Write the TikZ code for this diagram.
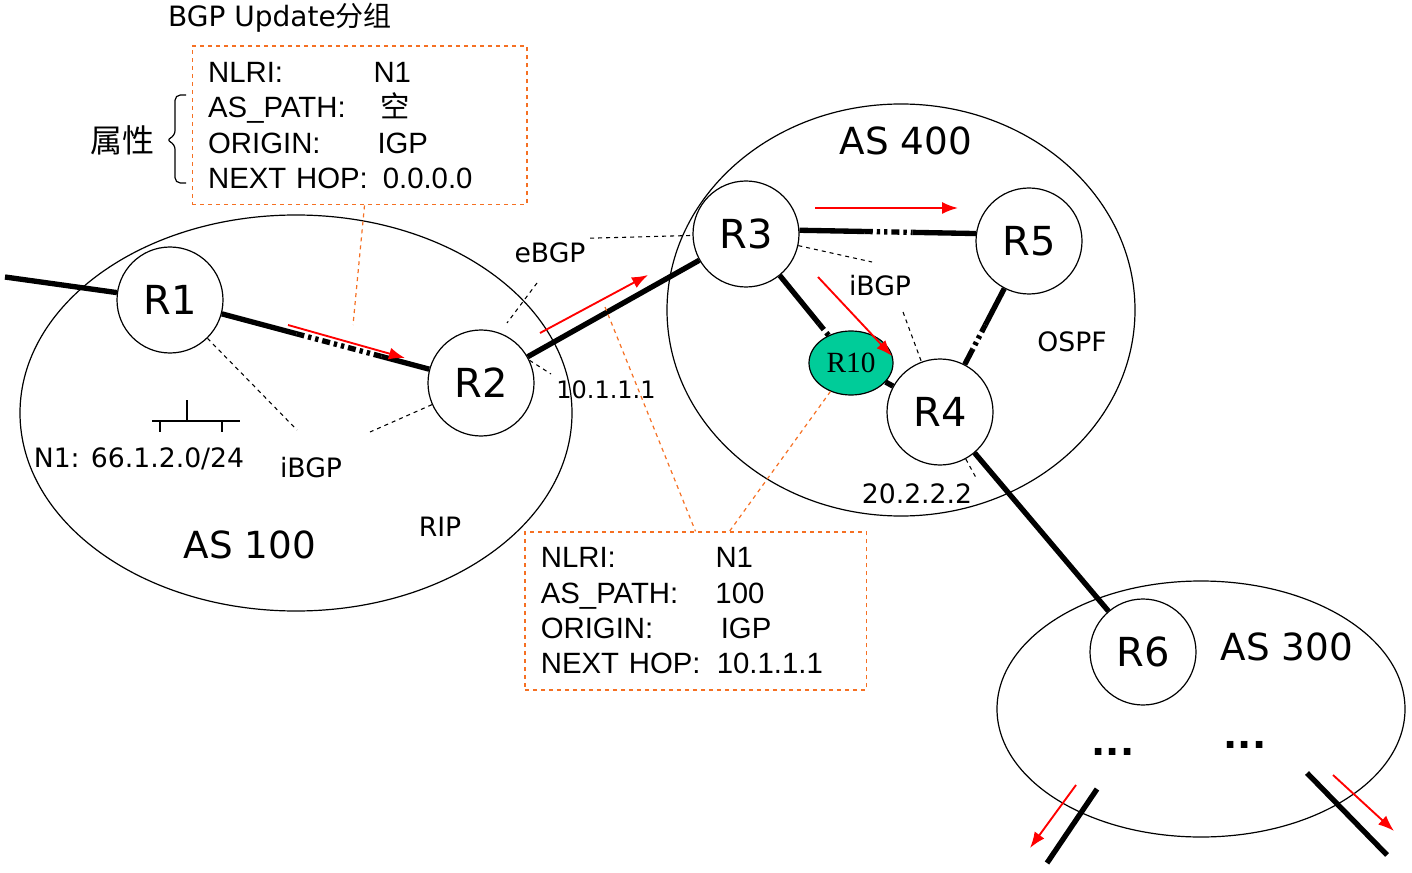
\documentclass[tikz,border=0pt]{standalone}
\usepackage{fontspec}
\setmainfont{Liberation Sans}
\newfontfamily\comicfont{DejaVu Sans}
\newfontfamily\serffont{Liberation Serif}
\newfontfamily\cjk{Noto Sans CJK SC}
\usetikzlibrary{arrows.meta,calc,shapes.geometric}
\definecolor{boxorange}{RGB}{245,112,35}
\definecolor{rgreen}{RGB}{0,204,153}
\newcommand{\fld}[3][124pt]{\makebox[#1][l]{#2}#3}

\begin{document}
\begin{tikzpicture}[x=0.75pt, y=-0.75pt]
    \tikzstyle{router} = [circle, draw, line width=0.9pt, minimum size=79.5pt, inner sep=0pt, font=\comicfont\fontsize{30}{30}\selectfont]
    \tikzstyle{link} = [line width=4pt]
    \tikzstyle{dashdot} = [line width=4pt, dash pattern=on 6pt off 3pt on 2.5pt off 3pt on 2.5pt off 3pt]
    \tikzstyle{flow} = [red, line width=1.4pt, -{Latex[length=12pt,width=9pt]}]
    \tikzstyle{leader} = [dashed, line width=0.8pt]
    \tikzstyle{oleader} = [boxorange, dashed, line width=0.9pt]
    \tikzstyle{msgbox} = [draw=boxorange, dashed, line width=1pt, align=left, inner xsep=12pt, font=\fontsize{22}{26.5}\selectfont]
    \tikzstyle{lbl} = [font=\comicfont\fontsize{20}{20}\selectfont]
    \tikzstyle{aslbl} = [font=\comicfont\fontsize{28}{28}\selectfont]
    \tikzstyle{more} = [font=\comicfont\bfseries\fontsize{28}{28}\selectfont]

    \useasboundingbox (0,0) rectangle (1412,873);

    % AS areas
    \draw[line width=0.9pt] (296,413) ellipse [x radius=276, y radius=198];
    \draw[line width=0.9pt] (901,310) ellipse [x radius=234, y radius=206];
    \draw[line width=0.9pt] (1201,709) ellipse [x radius=204, y radius=128];

    % routers
    \node[router] (R1) at (170,300) {R1};
    \node[router] (R2) at (481,383) {R2};
    \node[router] (R3) at (746,234) {R3};
    \node[router] (R5) at (1029,241) {R5};
    \node[router] (R4) at (940,412) {R4};
    \node[router] (R6) at (1143,652) {R6};
    \node[ellipse, draw, line width=0.9pt, fill=rgreen, minimum width=63pt, minimum height=48pt, inner sep=0pt,
          font=\serffont\fontsize{22}{22}\selectfont] (R10) at (851,363) {R10};

    % links
    \coordinate (lan) at (5,277);
    \draw[link] (lan) -- (R1);
    \path (R1) -- coordinate[pos=0.36] (a1) coordinate[pos=0.77] (a2) (R2);
    \draw[link] (R1) -- (a1);
    \draw[dashdot] (a1) -- (a2);
    \draw[link] (a2) -- (R2);
    \draw[link] (R2) -- (R3);
    \path (R3.4) -- coordinate[pos=0.37] (b1) coordinate[pos=0.64] (b2) (R5.172);
    \draw[link] (R3.4) -- (b1);
    \draw[dashdot] (b1) -- (b2);
    \draw[link] (b2) -- (R5.172);
    \path (R3) -- coordinate[pos=0.8] (c1) (R10);
    \draw[link] (R3) -- (c1);
    \draw[dashdot] (c1) -- (R10);
    \draw[link] (R10) -- (R4);
    \path (R5) -- coordinate[pos=0.48] (d1) coordinate[pos=0.8] (d2) (R4);
    \draw[link] (R5) -- (d1);
    \draw[dashdot] (d1) -- (d2);
    \draw[link] (d2) -- (R4);
    \draw[link] (R4) -- (R6);
    \coordinate (x1a) at (1097,789);
    \coordinate (x1b) at (1047,863);
    \coordinate (x2a) at (1307,773);
    \coordinate (x2b) at (1387,855);
    \draw[link] (x1a) -- (x1b);
    \draw[link] (x2a) -- (x2b);

    % update direction
    \draw[flow] (288,325) -- (405,358);
    \draw[flow] (540,333) -- (648,275);
    \draw[flow] (815,208) -- (958,208);
    \draw[flow] (818,277) -- (892,356);
    \draw[flow] (1076,785) -- (1030,848);
    \draw[flow] (1333,775) -- (1394,831);

    % network N1
    \draw[line width=0.9pt] (152,421) -- (240,421);
    \draw[line width=0.9pt] (187,400) -- (187,421);
    \draw[line width=0.9pt] (160,421) -- (160,432);
    \draw[line width=0.9pt] (222,421) -- (222,432);

    % labels
    \node[lbl] (n1) at (139,459) {N1: 66.1.2.0/24};
    \node[lbl] (ibgp1) at (311,468) {iBGP};
    \node[aslbl] (as100) at (250,545) {AS 100};
    \node[lbl] (rip) at (440,527) {RIP};
    \node[lbl] (ebgp) at (550,253) {eBGP};
    \node[font=\comicfont\fontsize{18}{18}\selectfont] (ip1) at (606,390) {10.1.1.1};
    \node[aslbl] (as400) at (906,141) {AS 400};
    \node[lbl] (ibgp2) at (880,286) {iBGP};
    \node[lbl] (ospf) at (1072,342) {OSPF};
    \node[lbl] (ip2) at (917,494) {20.2.2.2};
    \node[aslbl] (as300) at (1287,647) {AS 300};
    \node[more] (more1) at (1113,752) {...};
    \node[more] (more2) at (1245,745) {...};

    % session leaders
    \coordinate (i1) at (297,430);
    \coordinate (i2) at (370,432);
    \draw[leader] (R1) -- (i1);
    \draw[leader] (R2) -- (i2);
    \draw[leader] (ebgp.north east) -- (R3);
    \coordinate (e0) at (537,283);
    \coordinate (e1) at (507,323);
    \draw[leader] (e0) -- (e1);
    \coordinate (i5) at (551,374);
    \draw[leader] (R2.25) -- (i5);
    \coordinate (i3) at (872,262);
    \coordinate (i4) at (903,312);
    \draw[leader] (R3) -- (i3);
    \draw[leader] (i4) -- (R4);
    \draw[leader] (R4) -- (ip2.north east);

    % update messages
    \node[font=\comicfont\fontsize{21}{21}\selectfont] (title) at (280,18) {BGP Update{\cjk 分组}};
    \node[msgbox, text width=227pt, minimum height=119pt] (upd) at (359.5,125.5)
        {\fld{NLRI:}{N1}\\ \fld{AS\_PATH:}{\hspace{5pt}{\cjk 空}}\\ \fld{ORIGIN:}{\hspace{3pt}IGP}\\ \fld{NEXT HOP:}{\hspace{7pt}0.0.0.0}};
    \node[msgbox, text width=232pt, minimum height=118.5pt] (upd2) at (695.5,611)
        {\fld[131pt]{NLRI:}{N1}\\ \fld[131pt]{AS\_PATH:}{100}\\ \fld[131pt]{ORIGIN:}{\hspace{4pt}IGP}\\ \fld[131pt]{NEXT HOP:}{\hspace{1pt}10.1.1.1}};
    \node[font=\cjk\fontsize{24}{24}\selectfont] (attr) at (122,140) {属性};
    \draw[line width=0.9pt, rounded corners=4pt] (186,95) -- (175,95) -- (175,136) -- (166,140) -- (175,144) -- (175,183) -- (186,183);

    \coordinate (o1) at (353,325);
    \coordinate (o2) at (605,307);
    \coordinate (o3) at (729,532);
    \draw[oleader] (upd.south) ++(5,0) -- (o1);
    \draw[oleader] (o2) -- (upd2.north);
    \draw[oleader] (R10) -- (o3);
\end{tikzpicture}
\end{document}
